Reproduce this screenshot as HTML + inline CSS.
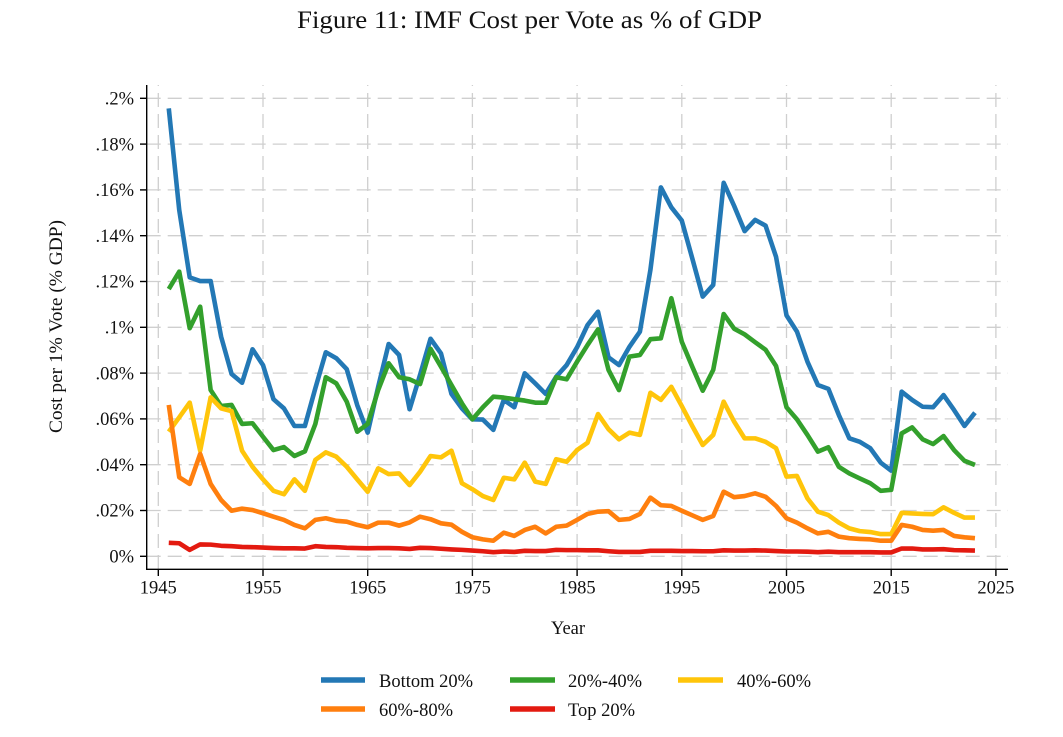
<!DOCTYPE html>
<html>
<head>
<meta charset="utf-8">
<style>
  html, body { margin: 0; padding: 0; background: #ffffff; }
  svg { display: block; }
  text { font-family: "Liberation Serif", "DejaVu Serif", serif; fill: #111; }
</style>
</head>
<body>
<svg width="1063" height="737" viewBox="0 0 1063 737" xmlns="http://www.w3.org/2000/svg">
  <rect x="0" y="0" width="1063" height="737" fill="#ffffff"/>

  <!-- Title -->
  <text x="529.5" y="28" font-size="25" text-anchor="middle" textLength="465" lengthAdjust="spacingAndGlyphs">Figure 11: IMF Cost per Vote as % of GDP</text>

  <!-- Horizontal grid -->
  <g stroke="#cfcfcf" stroke-width="1.3" stroke-dasharray="14 7" fill="none">
    <line x1="146.7" y1="98.3" x2="1008" y2="98.3"/>
    <line x1="146.7" y1="144.1" x2="1008" y2="144.1"/>
    <line x1="146.7" y1="189.9" x2="1008" y2="189.9"/>
    <line x1="146.7" y1="235.7" x2="1008" y2="235.7"/>
    <line x1="146.7" y1="281.5" x2="1008" y2="281.5"/>
    <line x1="146.7" y1="327.3" x2="1008" y2="327.3"/>
    <line x1="146.7" y1="373.1" x2="1008" y2="373.1"/>
    <line x1="146.7" y1="418.9" x2="1008" y2="418.9"/>
    <line x1="146.7" y1="464.7" x2="1008" y2="464.7"/>
    <line x1="146.7" y1="510.5" x2="1008" y2="510.5"/>
    <line x1="146.7" y1="556.3" x2="1008" y2="556.3"/>
  </g>
  <!-- Vertical grid -->
  <g stroke="#cfcfcf" stroke-width="1.3" stroke-dasharray="14 7" fill="none">
    <line x1="158.3" y1="569" x2="158.3" y2="85"/>
    <line x1="263.0" y1="569" x2="263.0" y2="85"/>
    <line x1="367.7" y1="569" x2="367.7" y2="85"/>
    <line x1="472.4" y1="569" x2="472.4" y2="85"/>
    <line x1="577.1" y1="569" x2="577.1" y2="85"/>
    <line x1="681.8" y1="569" x2="681.8" y2="85"/>
    <line x1="786.5" y1="569" x2="786.5" y2="85"/>
    <line x1="891.2" y1="569" x2="891.2" y2="85"/>
    <line x1="995.9" y1="569" x2="995.9" y2="85"/>
  </g>

  <!-- Axes -->
  <g stroke="#000" stroke-width="1.4" fill="none">
    <line x1="146.7" y1="85" x2="146.7" y2="569.3"/>
    <line x1="146" y1="569.3" x2="1008" y2="569.3"/>
    <!-- y ticks -->
    <line x1="140" y1="98.3" x2="146.7" y2="98.3"/>
    <line x1="140" y1="144.1" x2="146.7" y2="144.1"/>
    <line x1="140" y1="189.9" x2="146.7" y2="189.9"/>
    <line x1="140" y1="235.7" x2="146.7" y2="235.7"/>
    <line x1="140" y1="281.5" x2="146.7" y2="281.5"/>
    <line x1="140" y1="327.3" x2="146.7" y2="327.3"/>
    <line x1="140" y1="373.1" x2="146.7" y2="373.1"/>
    <line x1="140" y1="418.9" x2="146.7" y2="418.9"/>
    <line x1="140" y1="464.7" x2="146.7" y2="464.7"/>
    <line x1="140" y1="510.5" x2="146.7" y2="510.5"/>
    <line x1="140" y1="556.3" x2="146.7" y2="556.3"/>
    <!-- x ticks -->
    <line x1="158.3" y1="569.3" x2="158.3" y2="576"/>
    <line x1="263.0" y1="569.3" x2="263.0" y2="576"/>
    <line x1="367.7" y1="569.3" x2="367.7" y2="576"/>
    <line x1="472.4" y1="569.3" x2="472.4" y2="576"/>
    <line x1="577.1" y1="569.3" x2="577.1" y2="576"/>
    <line x1="681.8" y1="569.3" x2="681.8" y2="576"/>
    <line x1="786.5" y1="569.3" x2="786.5" y2="576"/>
    <line x1="891.2" y1="569.3" x2="891.2" y2="576"/>
    <line x1="995.9" y1="569.3" x2="995.9" y2="576"/>
  </g>

  <!-- Y tick labels -->
  <g font-size="18.5" text-anchor="end">
    <text x="134" y="104.5">.2%</text>
    <text x="134" y="150.3">.18%</text>
    <text x="134" y="196.1">.16%</text>
    <text x="134" y="241.9">.14%</text>
    <text x="134" y="287.7">.12%</text>
    <text x="134" y="333.5">.1%</text>
    <text x="134" y="379.3">.08%</text>
    <text x="134" y="425.1">.06%</text>
    <text x="134" y="470.9">.04%</text>
    <text x="134" y="516.7">.02%</text>
    <text x="134" y="562.5">0%</text>
  </g>

  <!-- X tick labels -->
  <g font-size="18.5" text-anchor="middle">
    <text x="158.3" y="593.5">1945</text>
    <text x="263.0" y="593.5">1955</text>
    <text x="367.7" y="593.5">1965</text>
    <text x="472.4" y="593.5">1975</text>
    <text x="577.1" y="593.5">1985</text>
    <text x="681.8" y="593.5">1995</text>
    <text x="786.5" y="593.5">2005</text>
    <text x="891.2" y="593.5">2015</text>
    <text x="995.9" y="593.5">2025</text>
  </g>

  <!-- Axis titles -->
  <text x="568" y="634" font-size="18.5" text-anchor="middle">Year</text>
  <text transform="translate(62,326.5) rotate(-90)" font-size="18.5" text-anchor="middle" textLength="213" lengthAdjust="spacingAndGlyphs">Cost per 1% Vote (% GDP)</text>

  <!-- Series: x = year-1945, y = value in % -->
  <g transform="translate(158.3,556.3) scale(10.47,-2290)" fill="none" stroke-linejoin="round" stroke-linecap="butt">
    <polyline vector-effect="non-scaling-stroke" stroke="#2378b5" stroke-width="4.6" points="1,.1956 2,.1512 3,.1218 4,.1202 5,.1202 6,.0959 7,.0796 8,.0758 9,.0904 10,.0835 11,.0686 12,.0646 13,.0569 14,.0569 15,.0734 16,.0891 17,.0865 18,.0817 19,.066 20,.054 21,.074 22,.0927 23,.0879 24,.0642 25,.0792 26,.095 27,.0886 28,.0709 29,.0646 30,.0598 31,.0597 32,.0552 33,.0683 34,.0651 35,.0799 36,.0755 37,.0709 38,.0784 39,.0835 40,.0913 41,.101 42,.1068 43,.0869 44,.0835 45,.0915 46,.0981 47,.125 48,.1611 49,.1524 50,.1466 51,.1301 52,.1134 53,.1185 54,.1631 55,.153 56,.142 57,.1469 58,.1444 59,.1308 60,.1052 61,.0981 62,.085 63,.0748 64,.0731 65,.0617 66,.0515 67,.05 68,.0472 69,.0409 70,.0374 71,.0719 72,.0683 73,.0653 74,.0651 75,.0704 76,.0639 77,.0569 78,.0627"/>
    <polyline vector-effect="non-scaling-stroke" stroke="#33a02c" stroke-width="4.6" points="1,.1167 2,.1243 3,.0996 4,.109 5,.0726 6,.0656 7,.0661 8,.0578 9,.0581 10,.0522 11,.0464 12,.0477 13,.0438 14,.0458 15,.0578 16,.0782 17,.0755 18,.0675 19,.0544 20,.0578 21,.0726 22,.0843 23,.0782 24,.0773 25,.0752 26,.0906 27,.0828 28,.0748 29,.0668 30,.0598 31,.0651 32,.0697 33,.0693 34,.0686 35,.068 36,.0671 37,.0671 38,.0782 39,.0773 40,.085 41,.0923 42,.0991 43,.0814 44,.0726 45,.0872 46,.0879 47,.0948 48,.0952 49,.1127 50,.0937 51,.0828 52,.0723 53,.0814 54,.1058 55,.0994 56,.0969 57,.0935 58,.0902 59,.0831 60,.0651 61,.0598 62,.053 63,.0457 64,.0476 65,.0391 66,.0362 67,.034 68,.0319 69,.0286 70,.029 71,.0537 72,.0563 73,.0511 74,.049 75,.0525 76,.0464 77,.0417 78,.0399"/>
    <polyline vector-effect="non-scaling-stroke" stroke="#ffc50a" stroke-width="4.6" points="1,.0544 2,.0607 3,.0671 4,.0461 5,.0694 6,.0646 7,.0634 8,.0461 9,.0391 10,.0336 11,.0286 12,.0271 13,.0336 14,.0286 15,.0421 16,.0454 17,.0435 18,.0391 19,.0336 20,.0282 21,.0384 22,.0359 23,.0362 24,.0311 25,.0369 26,.0438 27,.0432 28,.0461 29,.0319 30,.0293 31,.0263 32,.0246 33,.0343 34,.0336 35,.0409 36,.0326 37,.0316 38,.0424 39,.0413 40,.0464 41,.0496 42,.0621 43,.0555 44,.0511 45,.054 46,.053 47,.0714 48,.0683 49,.074 50,.0656 51,.0569 52,.0486 53,.053 54,.0675 55,.0588 56,.0515 57,.0515 58,.05 59,.0472 60,.0348 61,.0351 62,.0253 63,.0195 64,.018 65,.0147 66,.0122 67,.011 68,.0106 69,.0097 70,.0097 71,.019 72,.0187 73,.0185 74,.0184 75,.0214 76,.019 77,.0169 78,.0169"/>
    <polyline vector-effect="non-scaling-stroke" stroke="#ff7f0e" stroke-width="4.6" points="1,.0661 2,.0345 3,.0316 4,.0447 5,.0316 6,.0246 7,.0199 8,.0208 9,.0202 10,.0188 11,.0173 12,.0159 13,.0137 14,.0122 15,.0159 16,.0166 17,.0155 18,.0151 19,.0137 20,.0127 21,.0147 22,.0147 23,.0134 24,.0148 25,.0173 26,.0162 27,.0144 28,.0138 29,.0107 30,.0083 31,.0074 32,.0068 33,.0103 34,.0089 35,.0115 36,.0129 37,.01 38,.0129 39,.0134 40,.0159 41,.0185 42,.0195 43,.0197 44,.0159 45,.0163 46,.0185 47,.0256 48,.0223 49,.022 50,.0199 51,.0179 52,.0159 53,.0176 54,.0282 55,.0258 56,.0263 57,.0275 58,.026 59,.022 60,.0166 61,.0147 62,.0122 63,.01 64,.0107 65,.0086 66,.0079 67,.0076 68,.0074 69,.0068 70,.0068 71,.0137 72,.0129 73,.0115 74,.0112 75,.0115 76,.0089 77,.0083 78,.0079"/>
    <polyline vector-effect="non-scaling-stroke" stroke="#e31a10" stroke-width="4.6" points="1,.0059 2,.0057 3,.0028 4,.0052 5,.0051 6,.0046 7,.0044 8,.0041 9,.004 10,.0038 11,.0036 12,.0035 13,.0035 14,.0034 15,.0044 16,.0041 17,.004 18,.0037 19,.0036 20,.0035 21,.0036 22,.0036 23,.0035 24,.0032 25,.0037 26,.0036 27,.0033 28,.003 29,.0028 30,.0025 31,.0022 32,.0018 33,.0021 34,.0019 35,.0024 36,.0023 37,.0023 38,.0028 39,.0027 40,.0027 41,.0026 42,.0026 43,.0022 44,.0019 45,.0019 46,.0019 47,.0024 48,.0024 49,.0024 50,.0023 51,.0023 52,.0022 53,.0022 54,.0026 55,.0025 56,.0025 57,.0026 58,.0025 59,.0023 60,.0021 61,.0021 62,.002 63,.0018 64,.002 65,.0018 66,.0018 67,.0018 68,.0018 69,.0017 70,.0017 71,.0034 72,.0034 73,.003 74,.003 75,.0031 76,.0027 77,.0026 78,.0025"/>
  </g>

  <!-- Legend -->
  <g stroke-width="5.5" fill="none">
    <line x1="321" y1="680" x2="365" y2="680" stroke="#2378b5"/>
    <line x1="510" y1="680" x2="555" y2="680" stroke="#33a02c"/>
    <line x1="678" y1="680" x2="723" y2="680" stroke="#ffc50a"/>
    <line x1="321" y1="709" x2="365" y2="709" stroke="#ff7f0e"/>
    <line x1="510" y1="709" x2="555" y2="709" stroke="#e31a10"/>
  </g>
  <g font-size="18.5">
    <text x="379" y="687">Bottom 20%</text>
    <text x="568" y="687">20%-40%</text>
    <text x="737" y="687">40%-60%</text>
    <text x="379" y="716">60%-80%</text>
    <text x="568" y="716">Top 20%</text>
  </g>
</svg>
</body>
</html>
